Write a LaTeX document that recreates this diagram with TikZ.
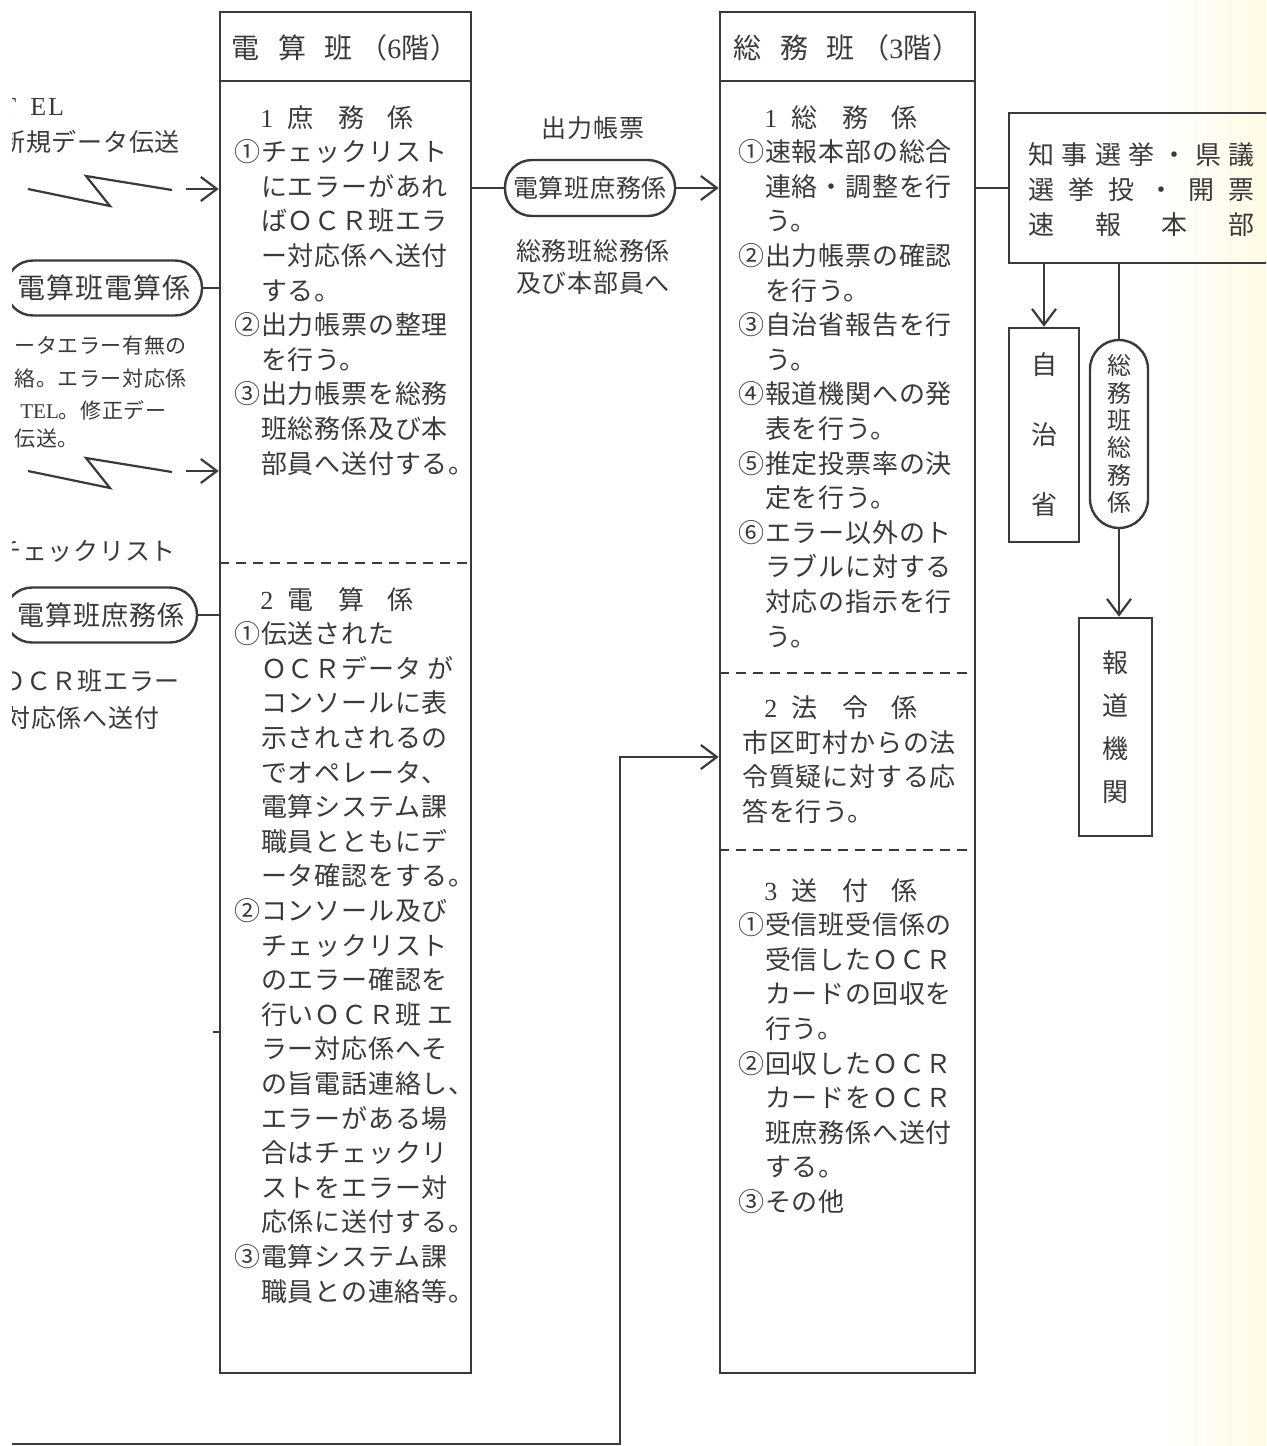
\documentclass[tikz,border=0pt]{standalone}
\usepackage{fontspec}
\setmainfont{Noto Sans CJK JP}[LetterSpace=3]
\newfontfamily\lat{Liberation Serif}
\newfontfamily\jn{Noto Sans CJK JP}
\usetikzlibrary{arrows.meta}
\definecolor{ink}{HTML}{3A3A3A}
\definecolor{paper}{RGB}{255,251,228}
\newcommand\fb{\fontsize{13}{13}\selectfont}
\newcommand\gp[1]{\hspace{#1em}}
\newcommand\lines[5]{\foreach \t [count=\i from 0] in {#5}{\node[body] (#1\i) at ({#2},{#3+10+#4*\i}) {\t};}}
\tikzset{
 ln/.style={draw=ink,line width=1.1pt},
 frame/.style={draw=ink,line width=1.3pt,inner sep=0pt},
 dsh/.style={draw=ink,line width=1pt,dash pattern=on 5pt off 3.5pt},
 arr/.style={draw=ink,line width=1.1pt,-{Straight Barb[length=8pt,width=12pt]}},
 stad/.style={draw=ink,line width=1.2pt,rounded corners=13.5pt,inner sep=0pt,text=ink},
 body/.style={anchor=base west,inner sep=0pt,text=ink,font=\fb},
 lab/.style={inner sep=0pt,text=ink,font=\fontsize{12.5}{12.5}\selectfont},
 note/.style={anchor=base west,inner sep=0pt,text=ink,font=\fontsize{12.5}{12.5}\selectfont},
 snote/.style={anchor=base west,inner sep=0pt,text=ink,font=\fontsize{10.5}{10.5}\selectfont},
 hqt/.style={anchor=base west,inner sep=0pt,text=ink,font=\jn\fontsize{13}{13}\selectfont},
}
\begin{document}
\begin{tikzpicture}[x=0.5pt,y=-0.5pt]
\useasboundingbox (0,0) rectangle (1266,1446);
\fill[white] (0,0) rectangle (1266,1446);
\clip (12,0) rectangle (1266,1446);
\shade[left color=white,right color=paper] (1160,0) rectangle (1266,1446);

% main boxes
\node[frame,minimum width=125.5pt,minimum height=680.5pt] (dbox) at (345.5,692.5) {};
\node[frame,minimum width=127.5pt,minimum height=680.5pt] (sbox) at (847.5,692.5) {};
\coordinate (hl) at (0,81);
\draw[frame] (dbox.west|-hl) -- (dbox.east|-hl);
\draw[frame] (sbox.west|-hl) -- (sbox.east|-hl);
\coordinate (d1) at (0,563);
\coordinate (d2) at (0,673);
\coordinate (d3) at (0,850);
\draw[dsh] (dbox.west|-d1) -- (dbox.east|-d1);
\draw[dsh] (sbox.west|-d2) -- (sbox.east|-d2);
\draw[dsh] (sbox.west|-d3) -- (sbox.east|-d3);

\node[lab,font=\fontsize{14}{14}\selectfont] (dh) at (345,48) {電\gp{.65}算\gp{.65}班\gp{.25}（{\lat 6}階）};
\node[lab,font=\fontsize{14}{14}\selectfont] (sh) at (847,48) {総\gp{.65}務\gp{.65}班\gp{.25}（{\lat 3}階）};

% left box text
\lines{lu}{234}{117}{34.6}{{　{\lat 1}\gp{.55}庶\gp{.95}務\gp{.9}係},①チェックリスト,　にエラーがあれ,　ばＯＣＲ班エラ,　ー対応係へ送付,　する。,②出力帳票の整理,　を行う。,③出力帳票を総務,　班総務係及び本,　部員へ送付する。}
\lines{ll}{234}{599}{34.6}{{　{\lat 2}\gp{.55}電\gp{.95}算\gp{.9}係},①伝送された,　ＯＣＲデータ が,　コンソールに表,　示されされるの,　でオペレータ、,　電算システム課,　職員とともにデ,　ータ確認をする。,②コンソール及び,　チェックリスト,　のエラー確認を,　行いＯＣＲ班 エ,　ラー対応係へそ,　の旨電話連絡し、,　エラーがある場,　合はチェックリ,　ストをエラー対,　応係に送付する。,③電算システム課,　職員との連絡等。}

% right box text
\lines{ru}{738}{117}{34.6}{{　{\lat 1}\gp{.55}総\gp{.95}務\gp{.9}係},①速報本部の総合,　連絡・調整を行,　う。,②出力帳票の確認,　を行う。,③自治省報告を行,　う。,④報道機関への発,　表を行う。,⑤推定投票率の決,　定を行う。,⑥エラー以外のト,　ラブルに対する,　対応の指示を行,　う。}
\lines{rh}{738}{707}{0}{{　{\lat 2}\gp{.55}法\gp{.95}令\gp{.9}係}}
\lines{rm}{742}{742}{34.6}{市区町村からの法,令質疑に対する応,答を行う。}
\lines{rs}{738}{890}{34.6}{{　{\lat 3}\gp{.55}送\gp{.95}付\gp{.9}係},①受信班受信係の,　受信したＯＣＲ,　カードの回収を,　行う。,②回収したＯＣＲ,　カードをＯＣＲ,　班庶務係へ送付,　する。,③その他}

% middle
\node[lab] (t1) at (593,128) {出力帳票};
\node[stad,minimum width=85pt,minimum height=28pt,font=\fontsize{12.5}{12.5}\selectfont] (mid) at (590,188) {電算班庶務係};
\node[lab] (t2) at (593,251) {総務班総務係};
\node[lab] (t3) at (593,283) {及び本部員へ};
\draw[ln] (mid.west-|dbox.east) -- (mid.west);
\draw[arr] (mid.east) -- (mid.east-|sbox.west);

% headquarters
\node[frame,minimum width=141pt,minimum height=75pt] (hq) at (1150,188) {};
\draw[ln] (hq.west-|sbox.east) -- (hq.west);
\node[hqt] (h1) at (1028,164) {\makebox[113pt][s]{知\hfil 事\hfil 選\hfil 挙\hfil ・\hfil 県\hfil 議}};
\node[hqt] (h2) at (1028,199) {\makebox[113pt][s]{選\hfil 挙\hfil 投\hfil ・\hfil 開\hfil 票}};
\node[hqt] (h3) at (1028,234) {\makebox[113pt][s]{速\hfil 報\hfil 本\hfil 部}};

\node[frame,minimum width=35pt,minimum height=107pt,align=center,text=ink,font=\jn\fontsize{13}{35}\selectfont] (jichi) at (1044,435) {自\\治\\省};
\draw[arr] (jichi.north|-hq.south) -- (jichi.north);
\node[stad,minimum width=29pt,minimum height=94pt,rounded corners=14.5pt,align=center,font=\jn\fontsize{12}{13.7}\selectfont] (vsomu) at (1119,434) {総\\務\\班\\総\\務\\係};
\draw[ln] (vsomu.north|-hq.south) -- (vsomu.north);
\node[frame,minimum width=36.5pt,minimum height=109pt,align=center,text=ink,font=\jn\fontsize{13}{21.5}\selectfont] (press) at (1115.5,727) {報\\道\\機\\関};
\draw[arr] (vsomu.south) -- (vsomu.south|-press.north);

% left inputs
\coordinate (za1) at (28,189); \coordinate (za2) at (110,206);
\coordinate (za3) at (86,176); \coordinate (za4) at (172,190);
\draw[ln] (za1) -- (za2) -- (za3) -- (za4);
\coordinate (a1) at (186,189);
\draw[arr] (a1) -- (a1-|dbox.west);
\coordinate (zb1) at (28,471); \coordinate (zb2) at (110,488);
\coordinate (zb3) at (86,458); \coordinate (zb4) at (172,472);
\draw[ln] (zb1) -- (zb2) -- (zb3) -- (zb4);
\coordinate (a2) at (186,471);
\draw[arr] (a2) -- (a2-|dbox.west);

\node[stad,minimum width=98pt,minimum height=27.5pt,font=\fontsize{14}{14}\selectfont] (calc) at (104,288) {電算班電算係};
\draw[ln] (calc.east) -- (calc.east-|dbox.west);
\node[stad,minimum width=96pt,minimum height=27.5pt,font=\fontsize{13.5}{13.5}\selectfont] (shm) at (101,615) {電算班庶務係};
\draw[ln] (shm.east) -- (shm.east-|dbox.west);

\node[note,font=\lat\fontsize{13}{13}\selectfont] (tel) at (0,115) {T\hspace{7pt}E\hspace{1pt}L};
\node[note] (nk) at (0,151) {新規データ伝送};
\node[snote] (n1) at (14,353) {ータエラー有無の};
\node[snote] (n2) at (14,386) {絡。エラー対応係};
\node[snote] (n3) at (20,418) {{\lat TEL}。修正デー};
\node[snote] (n4) at (14,446) {伝送。};
\node[note] (ck) at (-4,560) {チェックリスト};
\node[note] (oc) at (0,690) {ＯＣＲ班エラー};
\node[note] (tf) at (5,727) {対応係へ送付};

% small stub and bottom return line
\coordinate (tk) at (213,1032);
\draw[ln] (tk) -- (tk-|dbox.west);
\coordinate (bl) at (12,1444);
\coordinate (bc) at (620,1444);
\coordinate (bt) at (620,757);
\draw[arr] (bl) -- (bc) -- (bt) -- (bt-|sbox.west);
\end{tikzpicture}
\end{document}
